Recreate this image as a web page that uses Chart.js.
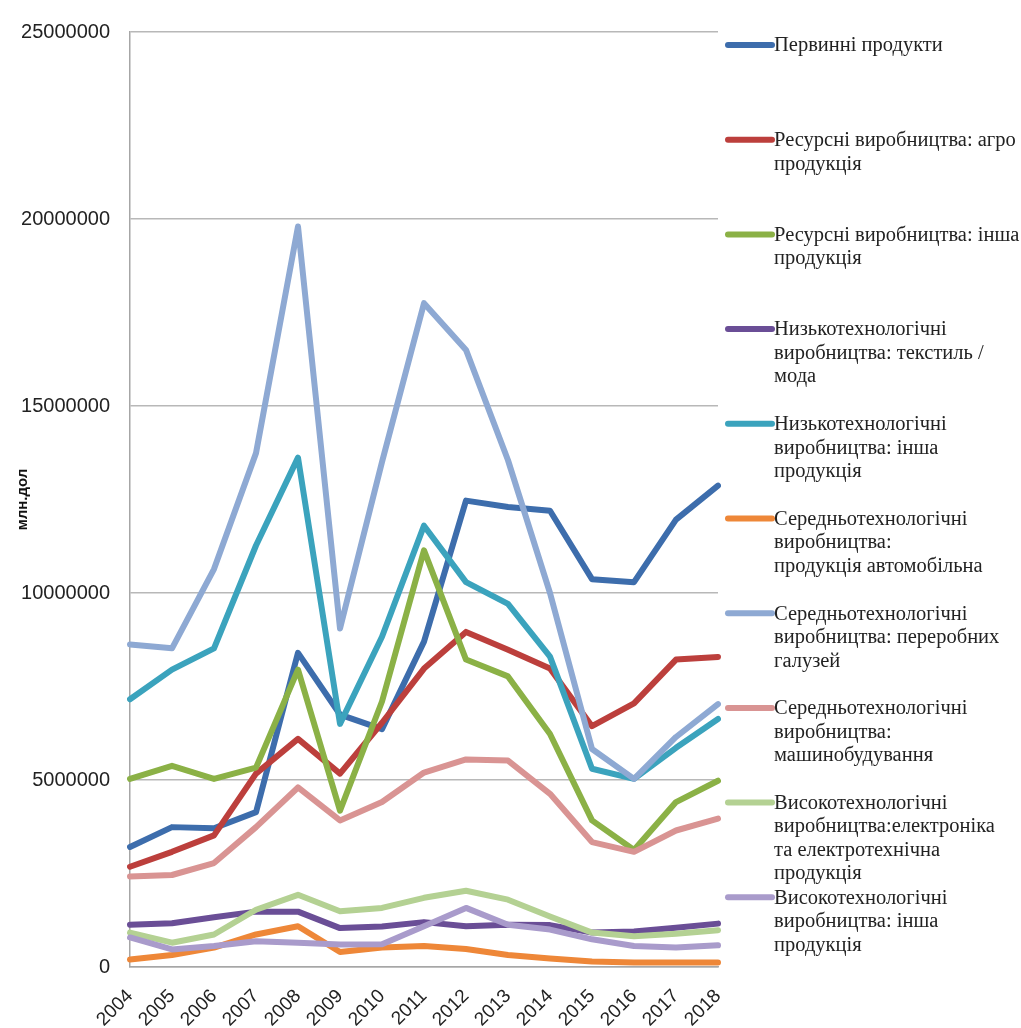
<!DOCTYPE html>
<html>
<head>
<meta charset="utf-8">
<script src="https://cdn.jsdelivr.net/npm/chart.js@4"></script>
<style>
  html, body { margin: 0; padding: 0; background: #fff; }
  #wrap { width: 1021px; height: 1028px; position: relative; }
</style>
</head>
<body>
<div id="wrap"><canvas id="myChart" width="1021" height="1028"></canvas></div>
<script>
const years = ['2004', '2005', '2006', '2007', '2008', '2009', '2010', '2011', '2012', '2013', '2014', '2015', '2016', '2017', '2018'];

const primary      = [3210000, 3740000, 3710000, 4140000, 8400000, 6750000, 6360000, 8700000, 12470000, 12300000, 12200000, 10370000, 10290000, 11960000, 12870000];
const agro         = [2680000, 3080000, 3520000, 5170000, 6100000, 5170000, 6530000, 7980000, 8960000, 8480000, 7980000, 6440000, 7050000, 8220000, 8290000];
const resOther     = [5030000, 5380000, 5030000, 5330000, 7950000, 4180000, 7100000, 11140000, 8220000, 7770000, 6230000, 3920000, 3130000, 4410000, 4980000];
const textile      = [1130000, 1170000, 1330000, 1480000, 1480000, 1040000, 1080000, 1200000, 1090000, 1130000, 1120000, 920000, 950000, 1050000, 1160000];
const lowOther     = [7160000, 7950000, 8520000, 11270000, 13620000, 6500000, 8830000, 11800000, 10290000, 9710000, 8300000, 5300000, 5030000, 5860000, 6630000];
const auto         = [200000, 320000, 520000, 870000, 1090000, 400000, 520000, 560000, 480000, 320000, 230000, 150000, 120000, 120000, 120000];
const processing   = [8620000, 8520000, 10640000, 13740000, 19800000, 9050000, 13500000, 17750000, 16500000, 13550000, 10000000, 5830000, 5030000, 6150000, 7030000];
const machinery    = [2420000, 2460000, 2780000, 3740000, 4800000, 3920000, 4410000, 5200000, 5550000, 5520000, 4630000, 3340000, 3080000, 3650000, 3970000];
const electronics  = [920000, 650000, 870000, 1530000, 1930000, 1490000, 1580000, 1850000, 2040000, 1800000, 1350000, 920000, 820000, 890000, 980000];
const highOther    = [790000, 470000, 560000, 690000, 650000, 600000, 610000, 1090000, 1580000, 1130000, 1000000, 740000, 560000, 520000, 580000];

const seriesNames = [
  ['Первинні продукти'],
  ['Ресурсні виробництва: агро', 'продукція'],
  ['Ресурсні виробництва: інша', 'продукція'],
  ['Низькотехнологічні', 'виробництва: текстиль /', 'мода'],
  ['Низькотехнологічні', 'виробництва: інша', 'продукція'],
  ['Середньотехнологічні', 'виробництва:', 'продукція автомобільна'],
  ['Середньотехнологічні', 'виробництва: переробних', 'галузей'],
  ['Середньотехнологічні', 'виробництва:', 'машинобудування'],
  ['Високотехнологічні', 'виробництва:електроніка', 'та електротехнічна', 'продукція'],
  ['Високотехнологічні', 'виробництва: інша', 'продукція'],
];
const seriesValues = [primary, agro, resOther, textile, lowOther, auto, processing, machinery, electronics, highOther];
const colors = ['#3d6dac', '#bc3f3c', '#8bb146', '#6a4e96', '#3ba3bd', '#ee8738', '#8ea9d3', '#d99493', '#b4d193', '#a99bcb'];

const yTicks = [0, 5000000, 10000000, 15000000, 20000000, 25000000];

// legend drawn by hand on the right, labels wrap like the original
const sideLegend = {
  id: 'sideLegend',
  afterDraw(chart) {
    const ctx = chart.ctx;
    const x0 = chart.chartArea.right + 10;
    ctx.save();
    ctx.font = '20.5px "Liberation Serif", serif';
    ctx.fillStyle = '#222';
    ctx.textBaseline = 'middle';
    seriesNames.forEach((lines, i) => {
      const y = 45 + i * 94.7;
      ctx.strokeStyle = colors[i];
      ctx.lineWidth = 6;
      ctx.lineCap = 'round';
      ctx.beginPath();
      ctx.moveTo(x0, y);
      ctx.lineTo(x0 + 44, y);
      ctx.stroke();
      lines.forEach((t, k) => {
        ctx.fillText(t, x0 + 46, y + 1 + k * 23.5);
      });
    });
    ctx.restore();
  }
};

const data = {
  labels: years,
  datasets: seriesValues.map((vals, i) => ({
    label: seriesNames[i].join(' '),
    data: vals,
    borderColor: colors[i],
    backgroundColor: colors[i],
    borderWidth: 6,
    borderJoinStyle: 'round',
    borderCapStyle: 'round',
    pointRadius: 0,
    tension: 0,
    order: 20 - i,
  })),
};

const config = {
  type: 'line',
  data,
  options: {
    responsive: false,
    animation: false,
    layout: {
      padding: { top: 30, right: 303, left: 0, bottom: 0 },
    },
    plugins: {
      legend: { display: false },
      tooltip: { enabled: false },
    },
    scales: {
      x: {
        offset: false,
        grid: { display: false },
        border: { color: '#a6a6a6', width: 1.5 },
        ticks: {
          minRotation: 45,
          maxRotation: 45,
          padding: 10,
          color: '#222',
          font: { family: '"Liberation Sans", sans-serif', size: 19 },
        },
        afterFit(scale) { scale.height = 61; },
      },
      y: {
        min: 0,
        max: 25000000,
        afterBuildTicks(scale) { scale.ticks = yTicks.map(v => ({ value: v })); },
        grid: { color: '#b8b8b8', lineWidth: 1.5, drawTicks: false },
        border: { color: '#a6a6a6', width: 1.5 },
        ticks: {
          padding: 20,
          color: '#222',
          font: { family: '"Liberation Sans", sans-serif', size: 20 },
          callback: v => String(v),
        },
        title: {
          display: true,
          text: 'млн.дол',
          color: '#111',
          font: { family: '"Liberation Sans", sans-serif', size: 15, weight: 'bold' },
          padding: { top: 14, bottom: 0 },
        },
        afterFit(scale) { scale.width = 130; },
      },
    },
  },
  plugins: [sideLegend],
};

const ctx = document.getElementById('myChart');
const chart = new Chart(ctx, config);
</script>
</body>
</html>
